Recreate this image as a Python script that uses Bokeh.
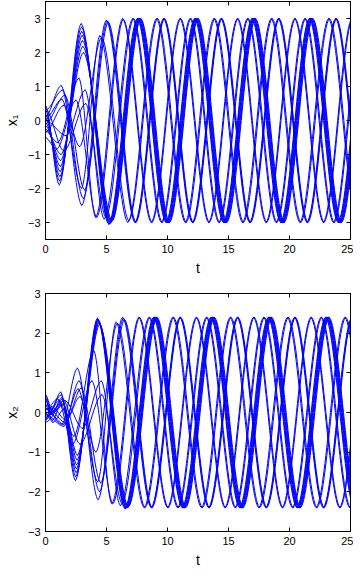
from bokeh.plotting import figure
from bokeh.layouts import column
from bokeh.models import Range1d, FixedTicker, LinearAxis, ColumnDataSource
from bokeh.embed import file_html
from bokeh.resources import INLINE

# ---------------- data: extrema (time, value) of each trajectory -------------
XTICKS = [0, 5, 10, 15, 20, 25]
YTICKS = [-3, -2, -1, 0, 1, 2, 3]
X_LABEL = "t"
Y1_LABEL = "x\u2081"
Y2_LABEL = "x\u2082"

# cluster A (thick bundle)
A1_X1_T = [0, 1.12, 2.92, 5.17, 7.52, 9.87, 12.22, 14.57, 16.92, 19.27, 21.62, 23.97, 26.32]
A1_X1_V = [0.45, -1.90, 2.85, -3.05, 3.0, -3.0, 3.0, -3.0, 3.0, -3.0, 3.0, -3.0, 3.0]
A1_X2_T = [0, 0.45, 1.25, 2.45, 4.25, 6.50, 8.85, 11.20, 13.55, 15.90, 18.25, 20.60, 22.95, 25.30, 27.65]
A1_X2_V = [0.30, 0.05, 0.52, -1.72, 2.38, -2.42, 2.4, -2.4, 2.4, -2.4, 2.4, -2.4, 2.4, -2.4, 2.4]

A2_X1_T = [0, 1.15, 2.95, 5.22, 7.57, 9.92, 12.27, 14.62, 16.97, 19.32, 21.67, 24.02, 26.37]
A2_X1_V = [0.32, -1.78, 2.75, -3.05, 3.0, -3.0, 3.0, -3.0, 3.0, -3.0, 3.0, -3.0, 3.0]
A2_X2_T = [0, 1.30, 2.48, 4.28, 6.55, 8.90, 11.25, 13.60, 15.95, 18.30, 20.65, 23.00, 25.35, 27.70]
A2_X2_V = [-0.15, 0.45, -1.62, 2.36, -2.42, 2.4, -2.4, 2.4, -2.4, 2.4, -2.4, 2.4, -2.4, 2.4]

A3_X1_T = [0, 1.18, 2.97, 5.27, 7.62, 9.97, 12.32, 14.67, 17.02, 19.37, 21.72, 24.07, 26.42]
A3_X1_V = [0.20, -1.65, 2.62, -3.03, 3.0, -3.0, 3.0, -3.0, 3.0, -3.0, 3.0, -3.0, 3.0]
A3_X2_T = [0, 0.50, 1.35, 2.51, 4.30, 6.60, 8.95, 11.30, 13.65, 16.00, 18.35, 20.70, 23.05, 25.40, 27.75]
A3_X2_V = [0.45, -0.05, 0.38, -1.52, 2.34, -2.41, 2.4, -2.4, 2.4, -2.4, 2.4, -2.4, 2.4, -2.4, 2.4]

A4_X1_T = [0, 1.20, 3.00, 5.32, 7.67, 10.02, 12.37, 14.72, 17.07, 19.42, 21.77, 24.12, 26.47]
A4_X1_V = [0.08, -1.50, 2.50, -3.02, 3.0, -3.0, 3.0, -3.0, 3.0, -3.0, 3.0, -3.0, 3.0]
A4_X2_T = [0, 0.55, 1.40, 2.53, 4.33, 6.65, 9.00, 11.35, 13.70, 16.05, 18.40, 20.75, 23.10, 25.45, 27.80]
A4_X2_V = [0.20, -0.20, 0.30, -1.42, 2.32, -2.40, 2.4, -2.4, 2.4, -2.4, 2.4, -2.4, 2.4, -2.4, 2.4]

A5_X1_T = [0, 1.22, 3.03, 5.37, 7.72, 10.07, 12.42, 14.77, 17.12, 19.47, 21.82, 24.17, 26.52]
A5_X1_V = [-0.05, -1.35, 2.35, -3.00, 3.0, -3.0, 3.0, -3.0, 3.0, -3.0, 3.0, -3.0, 3.0]
A5_X2_T = [0, 1.45, 2.55, 4.36, 6.70, 9.05, 11.40, 13.75, 16.10, 18.45, 20.80, 23.15, 25.50, 27.85]
A5_X2_V = [-0.25, 0.22, -1.32, 2.29, -2.40, 2.4, -2.4, 2.4, -2.4, 2.4, -2.4, 2.4, -2.4, 2.4]

A6_X1_T = [0, 1.25, 3.06, 5.42, 7.77, 10.12, 12.47, 14.82, 17.17, 19.52, 21.87, 24.22, 26.57]
A6_X1_V = [-0.15, -1.18, 2.18, -2.98, 3.0, -3.0, 3.0, -3.0, 3.0, -3.0, 3.0, -3.0, 3.0]
A6_X2_T = [0, 0.40, 1.50, 2.58, 4.39, 6.75, 9.10, 11.45, 13.80, 16.15, 18.50, 20.85, 23.20, 25.55, 27.90]
A6_X2_V = [0.38, -0.05, 0.20, -1.20, 2.26, -2.39, 2.4, -2.4, 2.4, -2.4, 2.4, -2.4, 2.4, -2.4, 2.4]

A7_X1_T = [0, 1.28, 3.10, 5.47, 7.82, 10.17, 12.52, 14.87, 17.22, 19.57, 21.92, 24.27, 26.62]
A7_X1_V = [-0.25, -1.00, 2.00, -2.95, 3.0, -3.0, 3.0, -3.0, 3.0, -3.0, 3.0, -3.0, 3.0]
A7_X2_T = [0, 0.60, 1.55, 2.61, 4.43, 6.80, 9.15, 11.50, 13.85, 16.20, 18.55, 20.90, 23.25, 25.60, 27.95]
A7_X2_V = [0.00, -0.25, 0.10, -1.08, 2.22, -2.38, 2.4, -2.4, 2.4, -2.4, 2.4, -2.4, 2.4, -2.4, 2.4]

# cluster B
B1_X1_T = [0, 1.35, 2.95, 4.45, 6.75, 9.10, 11.45, 13.80, 16.15, 18.50, 20.85, 23.20, 25.55, 27.90]
B1_X1_V = [0.05, 0.63, -2.00, 2.50, -3.0, 3.0, -3.0, 3.0, -3.0, 3.0, -3.0, 3.0, -3.0, 3.0]
B1_X2_T = [0, 1.50, 2.68, 4.28, 5.78, 8.08, 10.43, 12.78, 15.13, 17.48, 19.83, 22.18, 24.53, 26.88]
B1_X2_V = [0.10, -0.30, 0.60, -1.75, 2.28, -2.4, 2.4, -2.4, 2.4, -2.4, 2.4, -2.4, 2.4, -2.4]

B2_X1_T = [0, 1.50, 2.80, 4.60, 6.83, 9.18, 11.53, 13.88, 16.23, 18.58, 20.93, 23.28, 25.63, 27.98]
B2_X1_V = [-0.35, 0.45, -0.77, 2.45, -2.95, 3.0, -3.0, 3.0, -3.0, 3.0, -3.0, 3.0, -3.0, 3.0]
B2_X2_T = [0, 1.60, 2.83, 4.13, 5.90, 8.16, 10.51, 12.86, 15.21, 17.56, 19.91, 22.26, 24.61, 26.96]
B2_X2_V = [0.20, -0.25, 0.40, -1.00, 2.25, -2.4, 2.4, -2.4, 2.4, -2.4, 2.4, -2.4, 2.4, -2.4]

# cluster C
C1_X1_T = [0, 1.28, 2.98, 4.98, 7.33, 9.68, 12.03, 14.38, 16.73, 19.08, 21.43, 23.78, 26.13]
C1_X1_V = [0.10, 1.03, -2.50, 2.95, -3.0, 3.0, -3.0, 3.0, -3.0, 3.0, -3.0, 3.0, -3.0]
C1_X2_T = [0, 1.35, 2.61, 4.31, 6.31, 8.66, 11.01, 13.36, 15.71, 18.06, 20.41, 22.76, 25.11, 27.46]
C1_X2_V = [0.10, -0.30, 1.12, -2.20, 2.40, -2.4, 2.4, -2.4, 2.4, -2.4, 2.4, -2.4, 2.4, -2.4]

C2_X1_T = [0, 1.42, 3.10, 5.06, 7.37, 9.72, 12.07, 14.42, 16.77, 19.12, 21.47, 23.82, 26.17]
C2_X1_V = [0.30, 0.90, -2.30, 2.93, -3.0, 3.0, -3.0, 3.0, -3.0, 3.0, -3.0, 3.0, -3.0]
C2_X2_T = [0, 1.50, 2.75, 4.43, 6.39, 8.70, 11.05, 13.40, 15.75, 18.10, 20.45, 22.80, 25.15, 27.50]
C2_X2_V = [-0.05, -0.35, 0.80, -2.00, 2.38, -2.4, 2.4, -2.4, 2.4, -2.4, 2.4, -2.4, 2.4, -2.4]

C3_X1_T = [0, 1.60, 3.20, 5.14, 7.41, 9.76, 12.11, 14.46, 16.81, 19.16, 21.51, 23.86, 26.21]
C3_X1_V = [-0.10, 0.75, -2.05, 2.90, -3.0, 3.0, -3.0, 3.0, -3.0, 3.0, -3.0, 3.0, -3.0]
C3_X2_T = [0, 0.50, 1.70, 2.93, 4.53, 6.47, 8.74, 11.09, 13.44, 15.79, 18.14, 20.49, 22.84, 25.19, 27.54]
C3_X2_V = [-0.20, 0.15, -0.20, 0.62, -1.78, 2.35, -2.4, 2.4, -2.4, 2.4, -2.4, 2.4, -2.4, 2.4, -2.4]

# cluster D
D1_X1_T = [0, 1.00, 2.75, 4.10, 6.32, 8.67, 11.02, 13.37, 15.72, 18.07, 20.42, 22.77, 25.12, 27.47]
D1_X1_V = [-0.30, -0.65, 1.25, -2.85, 3.0, -3.0, 3.0, -3.0, 3.0, -3.0, 3.0, -3.0, 3.0, -3.0]
D1_X2_T = [0, 1.10, 2.33, 3.95, 5.43, 7.65, 10.00, 12.35, 14.70, 17.05, 19.40, 21.75, 24.10, 26.45, 28.80]
D1_X2_V = [-0.20, 0.30, -0.60, 1.57, -2.30, 2.4, -2.4, 2.4, -2.4, 2.4, -2.4, 2.4, -2.4, 2.4, -2.4]

D2_X1_T = [0, 0.90, 2.50, 4.20, 6.38, 8.73, 11.08, 13.43, 15.78, 18.13, 20.48, 22.83, 25.18, 27.53]
D2_X1_V = [-0.50, -0.85, 0.60, -2.85, 2.98, -3.0, 3.0, -3.0, 3.0, -3.0, 3.0, -3.0, 3.0, -3.0]
D2_X2_T = [0, 1.00, 2.23, 3.80, 5.53, 7.71, 10.06, 12.41, 14.76, 17.11, 19.46, 21.81, 24.16, 26.51, 28.86]
D2_X2_V = [0.05, 0.35, -0.80, 0.80, -2.30, 2.4, -2.4, 2.4, -2.4, 2.4, -2.4, 2.4, -2.4, 2.4, -2.4]

# cluster E
E1_X1_T = [0, 1.70, 3.25, 4.80, 7.15, 9.50, 11.85, 14.20, 16.55, 18.90, 21.25, 23.60, 25.95]
E1_X1_V = [0.00, -0.45, 0.90, -2.90, 3.0, -3.0, 3.0, -3.0, 3.0, -3.0, 3.0, -3.0, 3.0]
E1_X2_T = [0, 1.60, 3.03, 4.58, 6.13, 8.48, 10.83, 13.18, 15.53, 17.88, 20.23, 22.58, 24.93, 27.28]
E1_X2_V = [-0.10, 0.30, -0.40, 0.80, -2.35, 2.4, -2.4, 2.4, -2.4, 2.4, -2.4, 2.4, -2.4, 2.4]

E2_X1_T = [0, 1.50, 3.30, 4.95, 7.22, 9.57, 11.92, 14.27, 16.62, 18.97, 21.32, 23.67, 26.02]
E2_X1_V = [0.35, -0.90, 0.50, -2.85, 3.0, -3.0, 3.0, -3.0, 3.0, -3.0, 3.0, -3.0, 3.0]
E2_X2_T = [0, 0.60, 1.40, 2.83, 4.63, 6.28, 8.55, 10.90, 13.25, 15.60, 17.95, 20.30, 22.65, 25.00, 27.35]
E2_X2_V = [0.45, 0.00, 0.35, -0.80, 0.45, -2.30, 2.4, -2.4, 2.4, -2.4, 2.4, -2.4, 2.4, -2.4, 2.4]

TRAJ_X1 = [(A1_X1_T, A1_X1_V), (A2_X1_T, A2_X1_V), (A3_X1_T, A3_X1_V), (A4_X1_T, A4_X1_V),
           (A5_X1_T, A5_X1_V), (A6_X1_T, A6_X1_V), (A7_X1_T, A7_X1_V),
           (B1_X1_T, B1_X1_V), (B2_X1_T, B2_X1_V),
           (C1_X1_T, C1_X1_V), (C2_X1_T, C2_X1_V), (C3_X1_T, C3_X1_V),
           (D1_X1_T, D1_X1_V), (D2_X1_T, D2_X1_V),
           (E1_X1_T, E1_X1_V), (E2_X1_T, E2_X1_V)]
TRAJ_X2 = [(A1_X2_T, A1_X2_V), (A2_X2_T, A2_X2_V), (A3_X2_T, A3_X2_V), (A4_X2_T, A4_X2_V),
           (A5_X2_T, A5_X2_V), (A6_X2_T, A6_X2_V), (A7_X2_T, A7_X2_V),
           (B1_X2_T, B1_X2_V), (B2_X2_T, B2_X2_V),
           (C1_X2_T, C1_X2_V), (C2_X2_T, C2_X2_V), (C3_X2_T, C3_X2_V),
           (D1_X2_T, D1_X2_V), (D2_X2_T, D2_X2_V),
           (E1_X2_T, E1_X2_V), (E2_X2_T, E2_X2_V)]

# ---------------- drawing -------------
LINE_COLOR = "#0000ff"
FONT = "Liberation Sans"
K = 0.33  # control-point fraction for the smooth curve between two extrema


def segments(trajs):
    d = dict(x0=[], y0=[], x1=[], y1=[], cx0=[], cy0=[], cx1=[], cy1=[])
    for ts, vs in trajs:
        for i in range(len(ts) - 1):
            a, b = ts[i], ts[i + 1]
            d["x0"].append(a); d["y0"].append(vs[i])
            d["x1"].append(b); d["y1"].append(vs[i + 1])
            d["cx0"].append(a + K * (b - a)); d["cy0"].append(vs[i])
            d["cx1"].append(b - K * (b - a)); d["cy1"].append(vs[i + 1])
    return ColumnDataSource(d)


def minus(v):
    return str(v).replace("-", "\u2212")


def panel(trajs, yr, ylabel, frame_h, border_top):
    p = figure(frame_width=305, frame_height=frame_h, x_range=Range1d(0, 25), y_range=Range1d(*yr),
               output_backend="svg", toolbar_location=None,
               min_border_left=38, min_border_right=3, min_border_top=border_top,
               min_border_bottom=0)
    p.grid.visible = False
    p.outline_line_color = "black"
    p.outline_line_width = 1
    p.bezier(x0="x0", y0="y0", x1="x1", y1="y1", cx0="cx0", cy0="cy0", cx1="cx1", cy1="cy1",
             source=segments(trajs), line_color=LINE_COLOR, line_width=1, line_cap="round")

    for ax, ticks in ((p.xaxis[0], XTICKS), (p.yaxis[0], YTICKS)):
        ax.ticker = FixedTicker(ticks=ticks)
        ax.major_label_overrides = {t: minus(t) for t in ticks}
        ax.major_tick_in = 4
        ax.major_tick_out = 0
        ax.minor_tick_line_color = None
        ax.axis_line_color = "black"
        ax.major_tick_line_color = "black"
        ax.major_label_text_font = FONT
        ax.major_label_text_font_size = "11px"
        ax.major_label_text_color = "black"
        ax.major_label_standoff = 5
        ax.axis_label_text_font = FONT
        ax.axis_label_text_font_size = "14px"
        ax.axis_label_text_font_style = "normal"
        ax.axis_label_text_color = "black"
    p.xaxis[0].axis_label = X_LABEL
    p.xaxis[0].axis_label_standoff = 4
    p.yaxis[0].axis_label = ylabel
    p.yaxis[0].axis_label_standoff = 5

    for loc, ticks in (("above", XTICKS), ("right", YTICKS)):
        ax = LinearAxis(ticker=FixedTicker(ticks=ticks),
                        major_label_overrides={t: "" for t in ticks},
                        major_label_text_font_size="0px", major_label_standoff=0,
                        major_tick_in=4, major_tick_out=0, minor_tick_line_color=None,
                        axis_line_color="black", major_tick_line_color="black")
        p.add_layout(ax, loc)
    return p


p1 = panel(TRAJ_X1, (-3.5, 3.5), Y1_LABEL, 238, 1)
p2 = panel(TRAJ_X2, (-3, 3), Y2_LABEL, 238, 15)
layout = column(p1, p2, spacing=0)

open("out.html", "w").write(file_html(layout, INLINE))
